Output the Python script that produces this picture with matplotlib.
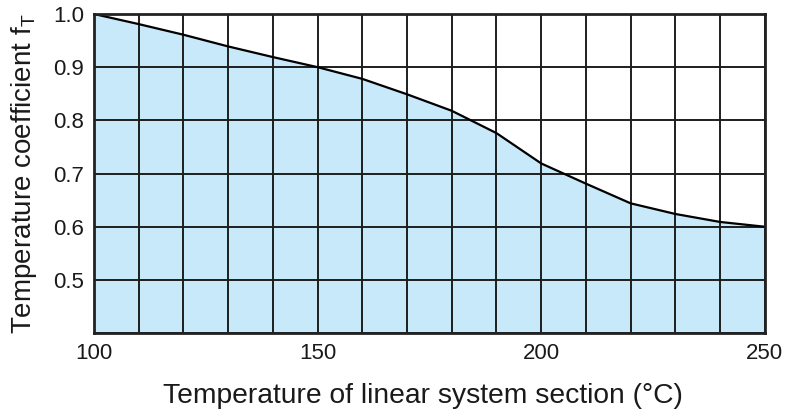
import numpy as np
import matplotlib.pyplot as plt

plt.rcParams['font.family'] = ['Liberation Sans', 'DejaVu Sans']

# curve
temps = [100, 110, 120, 130, 140, 150, 160, 170, 180, 190, 200, 210, 220, 230, 240, 250]
coeff = [1.0, 0.981, 0.961, 0.939, 0.919, 0.9, 0.878, 0.849, 0.818, 0.776,
         0.719, 0.681, 0.644, 0.624, 0.609, 0.6]

x_ticks = [100, 150, 200, 250]
y_ticks = [0.5, 0.6, 0.7, 0.8, 0.9, 1.0]

fig = plt.figure(figsize=(8, 4.19), dpi=100)
ax = fig.add_axes([0.1175, 0.205, 0.8385, 0.7616])

ax.fill_between(temps, 0.4, coeff, color='#c8e9fa', zorder=1)
ax.plot(temps, coeff, color='black', linewidth=1.6, zorder=3)

ax.set_xlim(100, 250)
ax.set_ylim(0.4, 1.0)

ax.set_xticks(x_ticks)
ax.set_xticklabels([str(t) for t in x_ticks])
ax.set_yticks(y_ticks)
ax.set_yticklabels(['%.1f' % v for v in y_ticks])

# grid every 10 deg and 0.1
ax.set_xticks(np.arange(100, 251, 10), minor=True)
ax.set_yticks(np.arange(0.4, 1.01, 0.1), minor=True)
ax.grid(which='both', color='#1e1e1e', linewidth=1.4, zorder=2)
ax.set_axisbelow(False)

ax.tick_params(which='both', length=0, labelsize=16, colors='#1a1a1a', pad=7)

for s in ax.spines.values():
    s.set_linewidth(2)
    s.set_color('#222222')
    s.set_zorder(4)

ax.set_xlabel('Temperature of linear system section (°C)', fontsize=20.3,
              color='#1a1a1a')
ax.xaxis.set_label_coords(0.49, -0.155)
ax.set_ylabel(r'Temperature coefficient f$\mathregular{_T}$', fontsize=20,
              labelpad=10, color='#1a1a1a')

fig.savefig('out.png', dpi=100)
